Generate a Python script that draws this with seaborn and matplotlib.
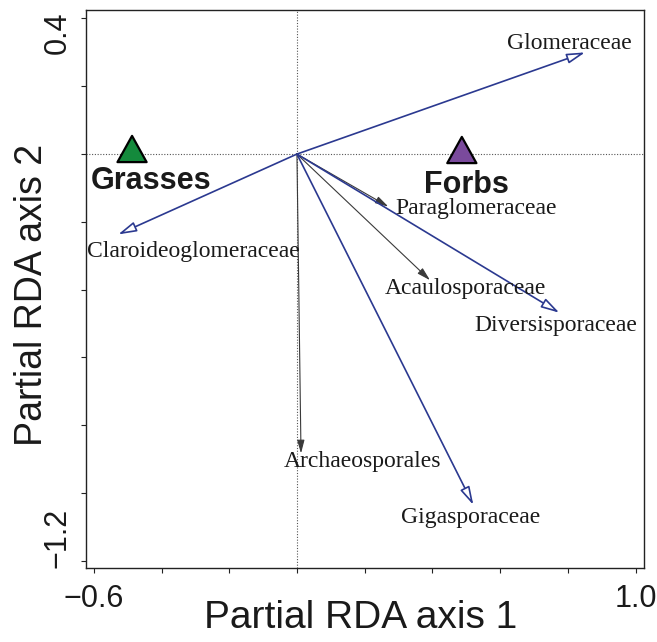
import numpy as np
import pandas as pd
import matplotlib
matplotlib.use("Agg")
import matplotlib.pyplot as plt
import matplotlib.transforms as mtransforms
from matplotlib.markers import MarkerStyle
from matplotlib.path import Path
import seaborn as sns

# ---------------- data ----------------
taxa = ["Glomeraceae", "Claroideoglomeraceae", "Paraglomeraceae",
        "Acaulosporaceae", "Diversisporaceae", "Archaeosporales", "Gigasporaceae"]
axis1 = [0.851, -0.528, 0.270, 0.393, 0.775, 0.012, 0.521]
axis2 = [0.300, -0.237, -0.155, -0.372, -0.468, -0.883, -1.035]
significant = [True, True, False, False, True, False, True]

groups = ["Grasses", "Forbs"]
group_axis1 = [-0.487, 0.487]
group_axis2 = [0.015, 0.012]

x_ticks = [-0.6, -0.4, -0.2, 0.0, 0.2, 0.4, 0.6, 0.8, 1.0]
x_tick_labels = ["\u22120.6", "", "", "", "", "", "", "", "1.0"]
y_ticks = [-1.2, -1.0, -0.8, -0.6, -0.4, -0.2, 0.0, 0.2, 0.4]
y_tick_labels = ["\u22121.2", "", "", "", "", "", "", "", "0.4"]

x_label = "Partial RDA axis 1"
y_label = "Partial RDA axis 2"

# ---------------- layout (label offsets from arrow tips, data units) ----------------
taxa_label_dx = [-0.047, 0.223, 0.259, 0.106, -0.011, 0.181, -0.007]
taxa_label_dy = [0.010, -0.066, -0.022, -0.041, -0.053, -0.041, -0.053]
group_label_dx = [0.056, 0.014]
group_label_dy = [-0.119, -0.126]

BLUE = "#2b3990"
GREY = "#3a3a3a"
group_colors = {"Grasses": "#148a3c", "Forbs": "#7a4a9c"}

sns.set_style("ticks")
plt.rcParams["font.family"] = ["Liberation Sans", "DejaVu Sans"]

fig = plt.figure(figsize=(6.57, 6.42), dpi=100)
ax = fig.add_axes([86 / 657, 74 / 642, 558 / 657, 558 / 642])

ax.set_xlim(-0.623, 1.025)
ax.set_ylim(-1.221, 0.425)

ax.axhline(0, color="#555555", ls=(0, (1, 1.5)), lw=0.8, zorder=1)
ax.axvline(0, color="#555555", ls=(0, (1, 1.5)), lw=0.8, zorder=1)

# arrows
for name, xv, yv, sig in zip(taxa, axis1, axis2, significant):
    if sig:
        props = dict(arrowstyle="-|>,head_length=1.1,head_width=0.3",
                     ec=BLUE, fc="white", lw=1.2, mutation_scale=10,
                     shrinkA=0, shrinkB=0)
    else:
        props = dict(arrowstyle="-|>,head_length=0.8,head_width=0.22",
                     ec=GREY, fc=GREY, lw=0.8, mutation_scale=10,
                     shrinkA=0, shrinkB=0)
    ax.annotate("", xy=(xv, yv), xytext=(0, 0), arrowprops=props, zorder=2)

for name, xv, yv, dx, dy in zip(taxa, axis1, axis2, taxa_label_dx, taxa_label_dy):
    ax.text(xv + dx, yv + dy, name, ha="center", va="baseline",
            fontsize=17, family=["Liberation Serif", "DejaVu Serif"],
            color="#1a1a1a", zorder=4)

# group centroids
gdf = pd.DataFrame({"group": groups, "axis1": group_axis1, "axis2": group_axis2})
tri = MarkerStyle(Path([(0, 0.9), (-1, -0.9), (1, -0.9), (0, 0.9)], closed=True))
sns.scatterplot(data=gdf, x="axis1", y="axis2", hue="group", palette=group_colors,
                marker=tri, s=440, edgecolor="black", linewidth=1.6,
                legend=False, ax=ax, zorder=5)
for g, xv, yv, dx, dy in zip(groups, group_axis1, group_axis2, group_label_dx, group_label_dy):
    ax.text(xv + dx, yv + dy, g, ha="center", va="baseline", fontsize=22,
            fontweight="bold", color="#1a1a1a", zorder=5)

# axes
ax.set_xticks(x_ticks)
ax.set_xticklabels(x_tick_labels)
ax.set_yticks(y_ticks)
ax.set_yticklabels(y_tick_labels, rotation=90, va="center")
ax.tick_params(axis="both", which="major", direction="out", length=3.5, width=0.8,
               color="#222222", bottom=True, left=True, top=False, right=False,
               labelsize=22, labelcolor="#1a1a1a")
ax.tick_params(axis="x", pad=8)
ax.tick_params(axis="y", pad=6)
ax.set_xlabel("")
ax.set_ylabel("")
for sp in ax.spines.values():
    sp.set_visible(True)
    sp.set_color("#222222")
    sp.set_linewidth(1.0)

# shift the two y tick labels inward like the reference
ylabs = ax.get_yticklabels()
ylabs[0].set_transform(ylabs[0].get_transform() +
                       mtransforms.ScaledTranslation(0, 22.7 / 100, fig.dpi_scale_trans))
ylabs[-1].set_transform(ylabs[-1].get_transform() +
                        mtransforms.ScaledTranslation(0, -14.7 / 100, fig.dpi_scale_trans))

ax.text(0.4928, -0.0573, x_label, transform=ax.transAxes, ha="center", va="top",
        fontsize=28, color="#1a1a1a")
ax.text(-0.0645, 0.489, y_label, transform=ax.transAxes, ha="center", va="bottom",
        rotation=90, rotation_mode="anchor", fontsize=27, color="#1a1a1a")

fig.savefig("out.png", dpi=100)
